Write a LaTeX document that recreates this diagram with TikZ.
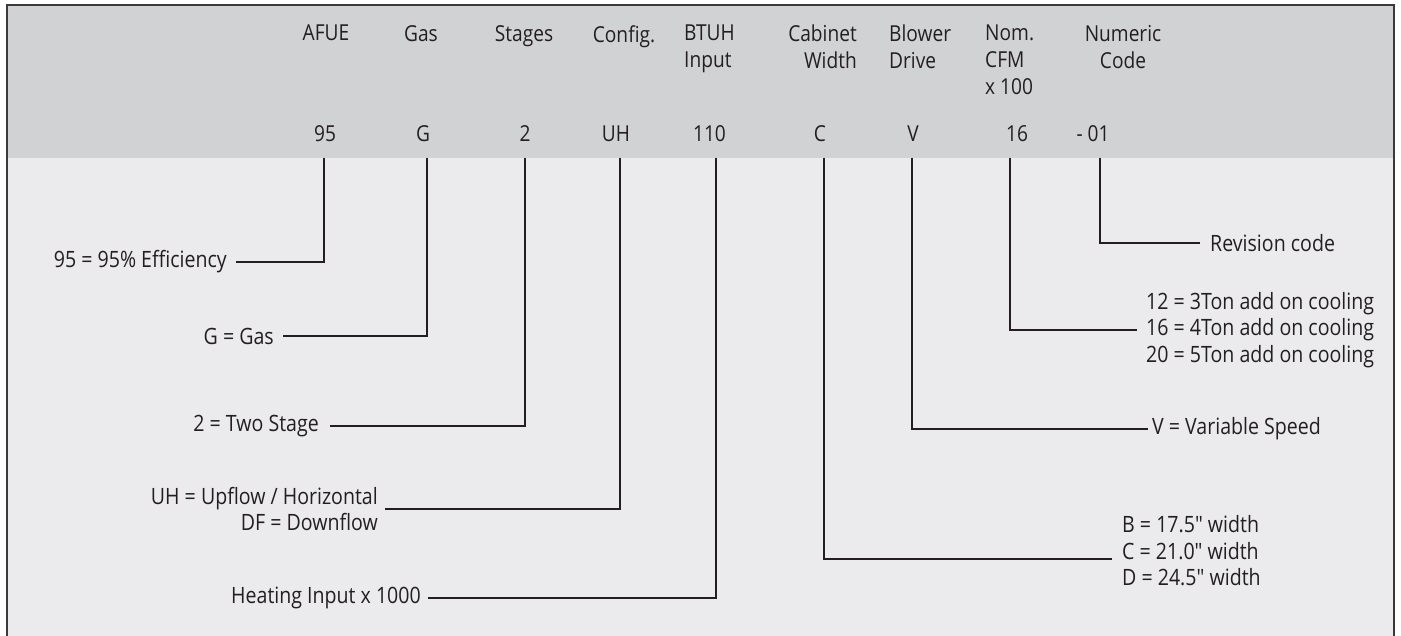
\documentclass[tikz,border=0pt]{standalone}
\usepackage{fontspec}
\setmainfont{Open Sans}[FakeStretch=0.87, Ligatures=TeXOff]
\definecolor{bandbg}{HTML}{D1D2D4}
\definecolor{bodybg}{HTML}{EBEBED}
\definecolor{ink}{HTML}{231F20}
\definecolor{framec}{HTML}{3A3A3A}
\tikzset{
  hdr/.style={font=\fontsize{22}{27}\selectfont, text=ink, inner sep=0pt, anchor=north},
  val/.style={font=\fontsize{22}{27}\selectfont, text=ink, inner sep=0pt, anchor=base},
  lbl/.style={font=\fontsize{22.5}{26.5}\selectfont, text=ink, inner ysep=0pt, inner xsep=9pt},
  conn/.style={draw=ink, line width=2.6pt, line join=miter},
  boxframe/.style={draw=framec, line width=2.4pt}
}
\begin{document}
\begin{tikzpicture}[x=1pt,y=-1pt]
\useasboundingbox (0,0) rectangle (1401,636);
\fill[bodybg] (7,5) rectangle (1394,645);
\fill[bandbg] (7,5) rectangle (1394,158);
\draw[boxframe] (7,645) -- (7,5) -- (1394,5) -- (1394,645);

% headers
\node[hdr] (hAFUE) at (326,25) {AFUE};
\node[hdr] (hGas) at (421,25) {Gas};
\node[hdr] (hStages) at (524,25) {Stages};
\node[hdr] (hConfig) at (624,25) {Config.};
\node[hdr, anchor=north west, align=left] (hBTUH) at (684,25) {BTUH\\Input};
\node[hdr, anchor=north east, align=right] (hCab) at (857,25) {Cabinet\\Width};
\node[hdr, anchor=north west, align=left] (hBlow) at (889,25) {Blower\\Drive};
\node[hdr, anchor=north west, align=left] (hCFM) at (985,25) {Nom.\\CFM\\x 100};
\node[hdr, align=center] (hNum) at (1123,25) {Numeric\\Code};

% values
\node[val] (v95) at (325,142) {95};
\node[val] (vG) at (423,142) {G};
\node[val] (v2) at (525,142) {2};
\node[val] (vUH) at (616,142) {UH};
\node[val] (v110) at (709.5,142) {110};
\node[val] (vC) at (820,142) {C};
\node[val] (vV) at (913,142) {V};
\node[val] (v16) at (1017,142) {16};
\node[val] (v01) at (1093,142) {- 01};

% connector starts at band bottom
\coordinate (t95) at (324,158);
\coordinate (tG) at (427,158);
\coordinate (t2) at (525,158);
\coordinate (tUH) at (620,158);
\coordinate (t110) at (716,158);
\coordinate (tC) at (824,158);
\coordinate (tV) at (912,158);
\coordinate (t16) at (1010,158);
\coordinate (t01) at (1100,158);

% labels
\node[lbl, anchor=east] (l95) at (236,262) {95 = 95\% Efficiency};
\node[lbl, anchor=east] (lG) at (283,336) {G = Gas};
\node[lbl, anchor=east, inner xsep=11pt] (l2) at (330,426) {2 = Two Stage};
\node[lbl, anchor=east, align=right, inner xsep=7pt] (lUH) at (385,509) {UH = Upflow / Horizontal\\DF = Downflow};
\node[lbl, anchor=east, inner xsep=7pt] (lHI) at (428,598) {Heating Input x 1000};
\node[lbl, anchor=west, align=left, inner xsep=10pt] (lC) at (1112,551) {B = 17.5" width\\C = 21.0" width\\D = 24.5" width};
\node[lbl, anchor=west, inner xsep=4pt] (lV) at (1148,429) {V = Variable Speed};
\node[lbl, anchor=west, align=left] (l16) at (1137,330) {12 = 3Ton add on cooling\\16 = 4Ton add on cooling\\20 = 5Ton add on cooling};
\node[lbl, anchor=west, inner xsep=10pt] (lRev) at (1200,243) {Revision code};

% connectors
\draw[conn] (t95) |- (l95.east);
\draw[conn] (tG) |- (lG.east);
\draw[conn] (t2) |- (l2.east);
\draw[conn] (tUH) |- (lUH.east);
\draw[conn] (t110) |- (lHI.east);
\draw[conn] (tC) |- ([yshift=-8pt]lC.west);
\draw[conn] (tV) |- (lV.west);
\draw[conn] (t16) |- (l16.west);
\draw[conn] (t01) |- (lRev.west);
\end{tikzpicture}
\end{document}
